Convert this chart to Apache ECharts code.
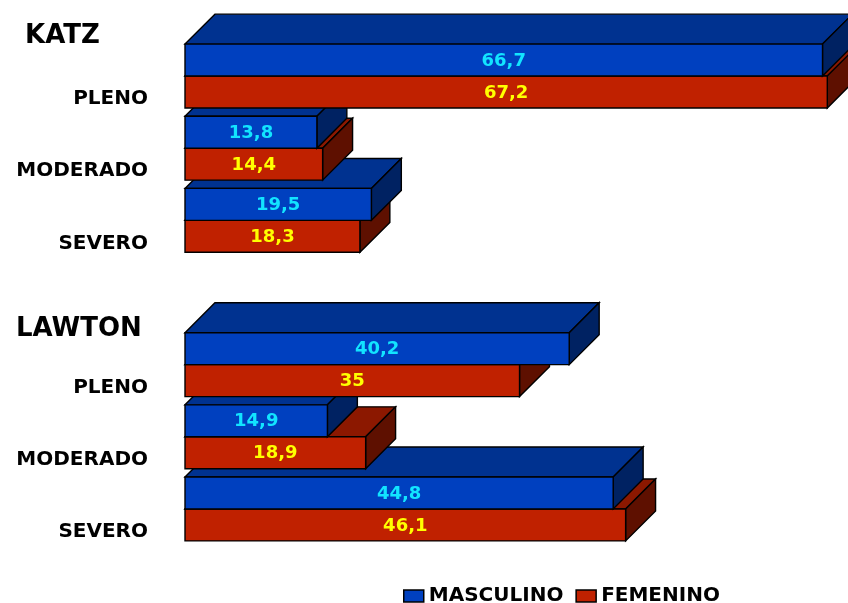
<!DOCTYPE html>
<html>
<head>
<meta charset="utf-8">
<style>
  html, body { margin: 0; padding: 0; background: #ffffff; }
  #chart { width: 848px; height: 603px; }
</style>
<script src="https://cdn.jsdelivr.net/npm/echarts@6/dist/echarts.min.js"></script>
</head>
<body>
<div id="chart"></div>
<script>
// Category rows (blank row separates the KATZ and LAWTON blocks)
const categories = ['PLENO', 'MODERADO', 'SEVERO', '', 'PLENO', 'MODERADO', 'SEVERO'];
// Percentages per row
const masculino = [66.7, 13.8, 19.5, null, 40.2, 14.9, 44.8];
const femenino  = [67.2, 14.4, 18.3, null, 35, 18.9, 46.1];
// Block headings
const groupTitles = ['KATZ', 'LAWTON'];
const seriesNames = ['MASCULINO', 'FEMENINO'];

const FONT = '"DejaVu Sans", "Liberation Sans", Arial, sans-serif';

const palette = {
  MASCULINO: { front: '#0040BF', top: '#003290', side: '#002262', label: '#12E4FF' },
  FEMENINO:  { front: '#C02100', top: '#8C1800', side: '#5E1000', label: '#FFFF00' }
};

function fmt(v) { return String(v).replace('.', ','); }

function makeRender(name, upper) {
  const c = palette[name];
  return function (params, api) {
    const v = api.value(0);
    const ci = api.value(1);
    const p0 = api.coord([0, ci]);
    const p1 = api.coord([v, ci]);
    const band = api.size([0, 1])[1];
    const h = band * 0.443;
    const d = band * 0.415;
    const x0 = p0[0], x1 = p1[0];
    const y0 = upper ? p0[1] - h : p0[1];
    const y1 = y0 + h;
    // rows lower on screen sit behind rows above them; upper bar of a pair in front
    const zb = (10 - ci) * 4 + (upper ? 2 : 0);
    const edge = { stroke: '#000', lineWidth: 1.4, lineJoin: 'miter' };
    return {
      type: 'group',
      children: [
        { type: 'polygon', z2: zb,
          shape: { points: [[x0, y0], [x0 + d, y0 - d], [x1 + d, y0 - d], [x1, y0]] },
          style: Object.assign({ fill: c.top }, edge) },
        { type: 'polygon', z2: zb,
          shape: { points: [[x1, y0], [x1 + d, y0 - d], [x1 + d, y1 - d], [x1, y1]] },
          style: Object.assign({ fill: c.side }, edge) },
        { type: 'rect', z2: zb + 1,
          shape: { x: x0, y: y0, width: x1 - x0, height: h },
          style: Object.assign({ fill: c.front }, edge) },
        { type: 'text', z2: 200,
          style: { text: fmt(v), x: (x0 + x1) / 2, y: (y0 + y1) / 2 + 1,
                   align: 'center', verticalAlign: 'middle',
                   font: 'bold 18px ' + FONT, fill: c.label } }
      ]
    };
  };
}

function toData(arr) {
  const out = [];
  arr.forEach((v, i) => { if (v != null) out.push([v, i]); });
  return out;
}

const chart = echarts.init(document.getElementById('chart'), null, { renderer: 'canvas' });

chart.setOption({
  animation: false,
  backgroundColor: '#ffffff',
  grid: { left: 185, top: 40, width: 659.5, height: 505 },
  xAxis: { type: 'value', min: 0, max: 69, show: false },
  yAxis: {
    type: 'category', data: categories, inverse: true,
    axisLine: { show: false }, axisTick: { show: false }, splitLine: { show: false },
    axisLabel: {
      margin: 37,
      formatter: function (v) { return v ? '{c|' + v + '}' : ''; },
      rich: {
        c: { color: '#000', fontFamily: FONT, fontWeight: 'bold', fontSize: 20,
             padding: [46, 0, 0, 0] }
      }
    }
  },
  legend: {
    left: 403, top: 586, padding: 0, icon: 'rect', itemWidth: 20, itemHeight: 12, itemGap: 12,
    selectedMode: false,
    textStyle: { color: '#000', fontFamily: FONT, fontWeight: 'bold', fontSize: 20 },
    itemStyle: { borderColor: '#000', borderWidth: 1.5 },
    data: seriesNames
  },
  graphic: [
    { type: 'text', left: 25, top: 23, style: { text: groupTitles[0], font: 'bold 26px ' + FONT, fill: '#000' } },
    { type: 'text', left: 16, top: 316, style: { text: groupTitles[1], font: 'bold 26px ' + FONT, fill: '#000' } }
  ],
  series: [
    { name: 'MASCULINO', type: 'custom', renderItem: makeRender('MASCULINO', true),
      itemStyle: { color: palette.MASCULINO.front },
      encode: { x: 0, y: 1 }, data: toData(masculino), silent: true },
    { name: 'FEMENINO', type: 'custom', renderItem: makeRender('FEMENINO', false),
      itemStyle: { color: palette.FEMENINO.front },
      encode: { x: 0, y: 1 }, data: toData(femenino), silent: true }
  ]
});
</script>
</body>
</html>
